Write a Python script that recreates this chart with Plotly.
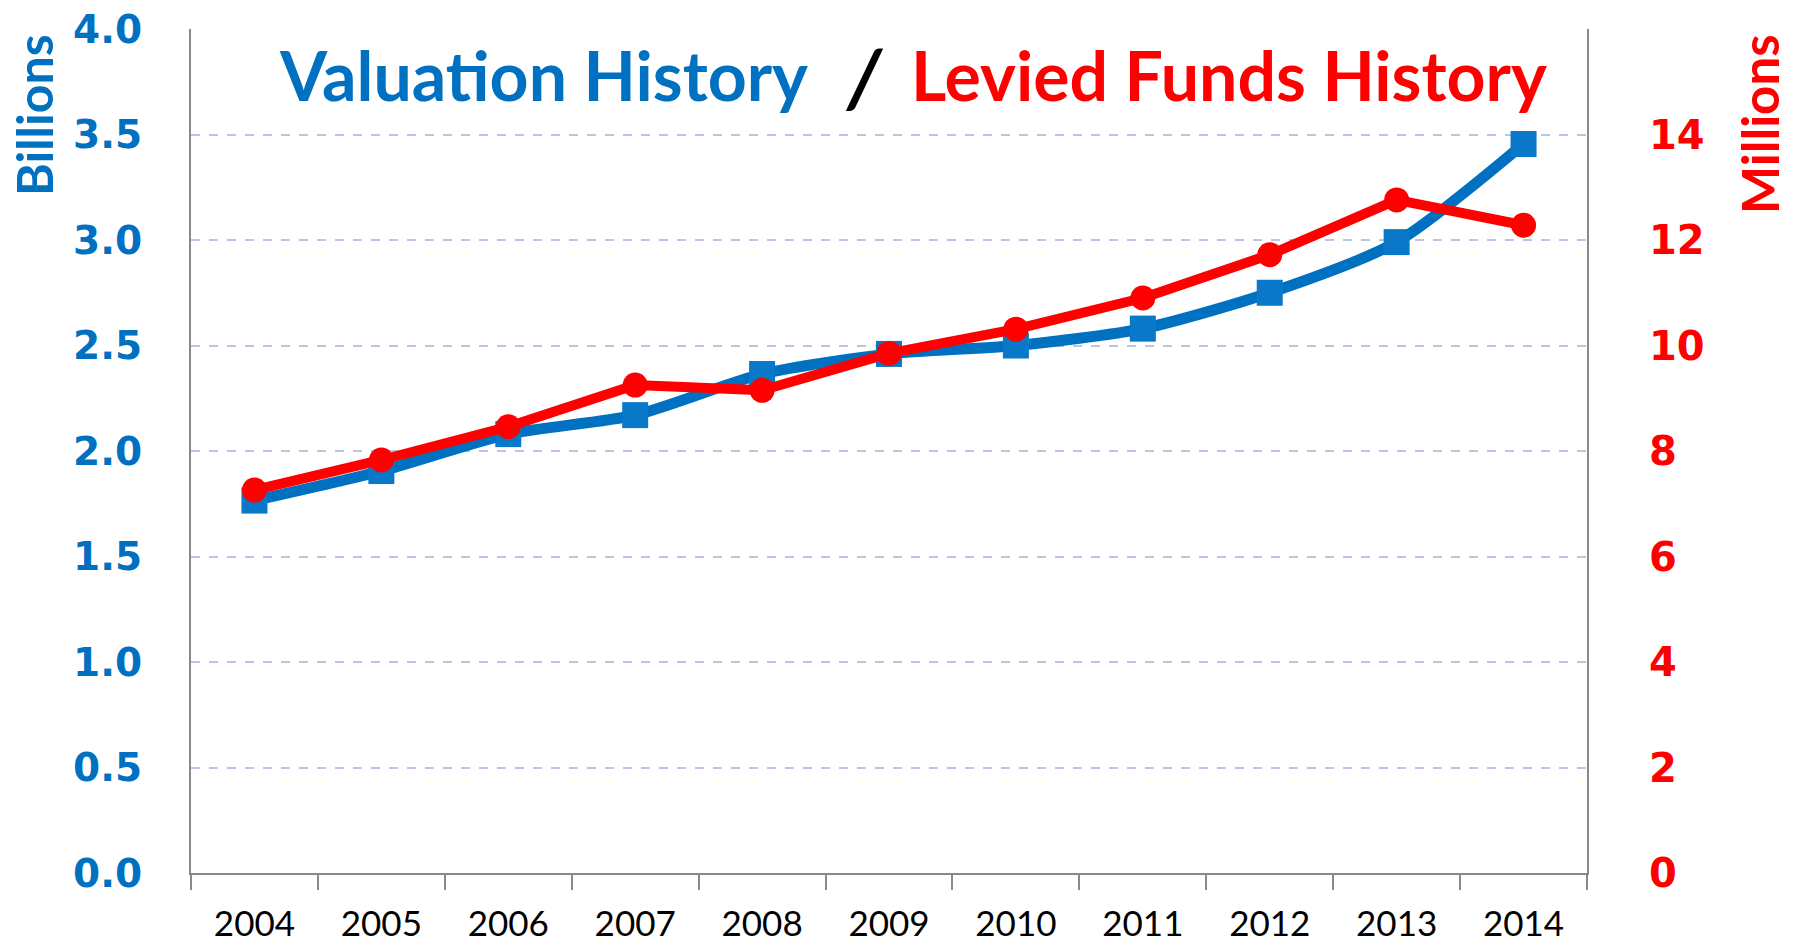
import plotly.graph_objects as go

years = ["2004", "2005", "2006", "2007", "2008", "2009", "2010", "2011", "2012", "2013", "2014"]
valuation_billions = [1.765, 1.905, 2.08, 2.17, 2.365, 2.46, 2.50, 2.58, 2.75, 2.99, 3.455]
levied_millions = [7.26, 7.83, 8.46, 9.25, 9.15, 9.85, 10.31, 10.90, 11.72, 12.76, 12.28]
left_ticks = [0.0, 0.5, 1.0, 1.5, 2.0, 2.5, 3.0, 3.5, 4.0]
left_tick_text = ["0.0", "0.5", "1.0", "1.5", "2.0", "2.5", "3.0", "3.5", "4.0"]
right_ticks = [0, 2, 4, 6, 8, 10, 12, 14]

BLUE = "#0070C0"
BLUE_MARK = "#0A78C8"
RED = "#FF0000"
AXIS = "#898989"
GRID = "#B4C7E7"

W, H = 1797, 948
L, R, T, B = 191, 210, 29, 75
PW, PH = W - L - R, H - T - B


def px(x):
    return (x - L) / PW


def py(y):
    return (H - B - y) / PH


fig = go.Figure()
fig.add_trace(go.Scatter(
    x=years, y=valuation_billions, mode="lines+markers", yaxis="y",
    line=dict(color=BLUE, width=11, shape="spline", smoothing=0.7),
    marker=dict(symbol="square", size=26, color=BLUE_MARK, line=dict(width=0)),
    name="Valuation",
))
fig.add_trace(go.Scatter(
    x=years, y=levied_millions, mode="lines+markers", yaxis="y2",
    line=dict(color=RED, width=10),
    marker=dict(symbol="circle", size=25, color=RED, line=dict(width=0)),
    name="Levied Funds",
))

fig.update_layout(
    width=W, height=H,
    margin=dict(l=L, r=R, t=T, b=B, pad=0, autoexpand=False),
    plot_bgcolor="white", paper_bgcolor="white",
    showlegend=False,
    xaxis=dict(
        type="category", tickson="boundaries", ticks="outside", ticklen=15,
        tickwidth=1.5, tickcolor=AXIS, showline=True, linecolor=AXIS, linewidth=2,
        showgrid=False, range=[-0.5, 10.5], ticklabelstandoff=19, automargin=False,
        tickfont=dict(family="Lato", size=35, color="black"),
    ),
    yaxis=dict(
        range=[0, 4], tickvals=left_ticks, ticktext=left_tick_text,
        showline=True, linecolor=AXIS, linewidth=2, zeroline=False,
        showgrid=True, gridcolor=GRID, griddash="dash", gridwidth=1.5,
        ticks="", ticklabelstandoff=39, automargin=False,
        tickfont=dict(family="DejaVu Sans", size=39, color=BLUE, weight="bold"),
    ),
    yaxis2=dict(
        range=[0, 16], overlaying="y", side="right", tickvals=right_ticks,
        showline=True, linecolor=AXIS, linewidth=2, zeroline=False, showgrid=False,
        ticks="", ticklabelstandoff=52, automargin=False,
        tickfont=dict(family="DejaVu Sans", size=40, color=RED, weight="bold"),
    ),
)

title_font = dict(family="Lato", size=68, weight="bold")
fig.add_annotation(text="Valuation History", xref="paper", yref="paper",
                   x=px(277), y=py(75), xanchor="left", yanchor="middle",
                   showarrow=False, font=dict(title_font, color=BLUE))
fig.add_annotation(text="/", xref="paper", yref="paper",
                   x=px(864), y=py(76), xanchor="center", yanchor="middle",
                   showarrow=False,
                   font=dict(family="Lato", size=80, weight="bold", style="italic", color="black"))
fig.add_annotation(text="Levied Funds History", xref="paper", yref="paper",
                   x=px(1549), y=py(75), xanchor="right", yanchor="middle",
                   showarrow=False, font=dict(title_font, color=RED))
fig.add_annotation(text="Billions", xref="paper", yref="paper",
                   x=px(34), y=py(115), xanchor="center", yanchor="middle",
                   textangle=-90, showarrow=False,
                   font=dict(family="Lato", size=50, weight="bold", color=BLUE))
fig.add_annotation(text="Millions", xref="paper", yref="paper",
                   x=px(1759), y=py(124), xanchor="center", yanchor="middle",
                   textangle=-90, showarrow=False,
                   font=dict(family="Lato", size=51, weight="bold", color=RED))

# remove the default 8px page margin so the figure sits at the window's corner
fig.write_html("out.html", config={"displayModeBar": False},
               post_script="document.body.style.margin='0';")
